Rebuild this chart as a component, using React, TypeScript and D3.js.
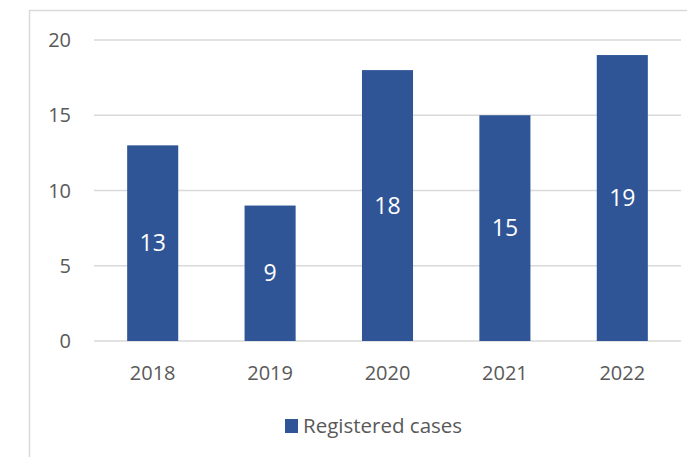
import React, { useEffect, useRef } from 'react';
import * as d3 from 'd3';

const years = ['2018', '2019', '2020', '2021', '2022'];
const cases = [13, 9, 18, 15, 19];
const yTicks = [0, 5, 10, 15, 20];
const seriesName = 'Registered cases';

const W = 687;
const H = 457;

const App: React.FC = () => {
  const svgRef = useRef<SVGSVGElement>(null);

  useEffect(() => {
    const svg = d3.select(svgRef.current);
    svg.selectAll('*').remove();

    const font = '"Open Sans", sans-serif';
    const barColor = '#2f5597';
    const textColor = '#595959';

    // chart frame (only top/left visible in the crop)
    svg.append('rect')
      .attr('x', 29.5)
      .attr('y', 10.5)
      .attr('width', W + 20)
      .attr('height', H + 20)
      .attr('fill', 'white')
      .attr('stroke', '#d9d9d9')
      .attr('stroke-width', 1.5);

    const xScale = d3.scaleBand()
      .domain(years)
      .range([94, 681])
      .padding(0);

    const yScale = d3.scaleLinear()
      .domain([0, 20])
      .range([341, 40]);

    const barW = xScale.bandwidth() * 0.435;

    // gridlines
    svg.append('g')
      .selectAll('line')
      .data(yTicks)
      .enter()
      .append('line')
      .attr('x1', 94)
      .attr('x2', 681)
      .attr('y1', d => yScale(d))
      .attr('y2', d => yScale(d))
      .attr('stroke', '#d9d9d9')
      .attr('stroke-width', 1.5);

    // y tick labels
    svg.append('g')
      .selectAll('text')
      .data(yTicks)
      .enter()
      .append('text')
      .attr('x', 71)
      .attr('y', d => yScale(d))
      .attr('dy', '0.35em')
      .attr('text-anchor', 'end')
      .style('font-family', font)
      .style('font-size', '20px')
      .style('fill', textColor)
      .text(d => d);

    // bars
    const data = years.map((y, i) => ({ year: y, value: cases[i] }));

    svg.append('g')
      .selectAll('rect')
      .data(data)
      .enter()
      .append('rect')
      .attr('x', d => (xScale(d.year) || 0) + (xScale.bandwidth() - barW) / 2)
      .attr('y', d => yScale(d.value))
      .attr('width', barW)
      .attr('height', d => yScale(0) - yScale(d.value))
      .attr('fill', barColor);

    // value labels
    svg.append('g')
      .selectAll('text')
      .data(data)
      .enter()
      .append('text')
      .attr('x', d => (xScale(d.year) || 0) + xScale.bandwidth() / 2)
      .attr('y', d => (yScale(d.value) + yScale(0)) / 2)
      .attr('dy', '0.35em')
      .attr('text-anchor', 'middle')
      .style('font-family', font)
      .style('font-size', '23px')
      .style('fill', 'white')
      .text(d => d.value);

    // x labels
    svg.append('g')
      .selectAll('text')
      .data(years)
      .enter()
      .append('text')
      .attr('x', d => (xScale(d) || 0) + xScale.bandwidth() / 2)
      .attr('y', 373)
      .attr('dy', '0.35em')
      .attr('text-anchor', 'middle')
      .style('font-family', font)
      .style('font-size', '20px')
      .style('fill', textColor)
      .text(d => d);

    // legend
    const legend = svg.append('g').attr('transform', 'translate(285, 419)');
    legend.append('rect')
      .attr('width', 13)
      .attr('height', 14)
      .attr('fill', barColor);
    legend.append('text')
      .attr('x', 18)
      .attr('y', 7)
      .attr('dy', '0.35em')
      .style('font-family', font)
      .style('font-size', '20.5px')
      .style('fill', textColor)
      .text(seriesName);
  }, []);

  return (
    <svg
      ref={svgRef}
      width={W}
      height={H}
      style={{ position: 'absolute', top: 0, left: 0, background: 'white' }}
    />
  );
};

export default App;
